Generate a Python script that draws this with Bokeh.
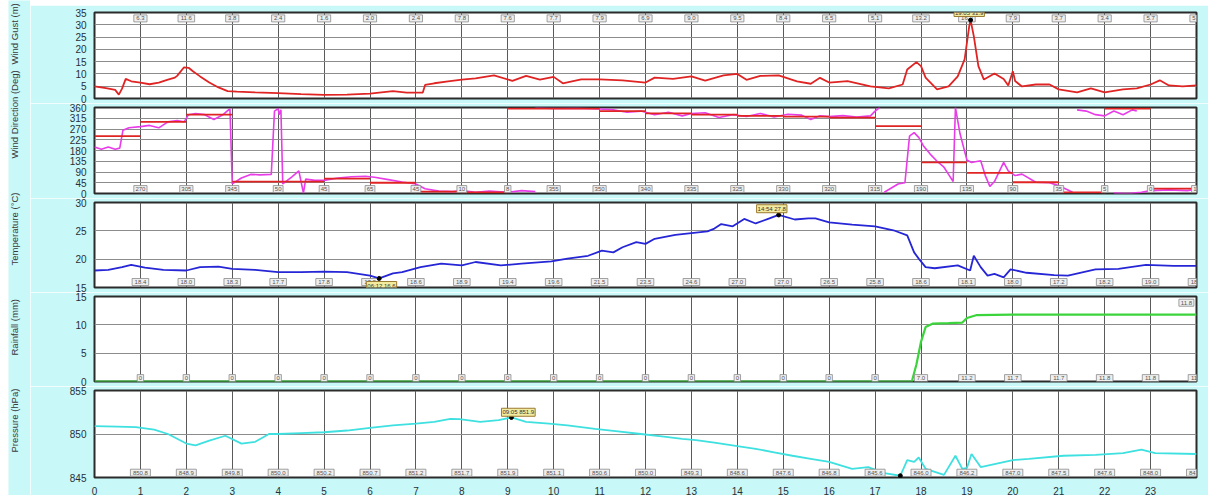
import math
from bokeh.plotting import figure
from bokeh.layouts import column, row
from bokeh.models import Range1d, FixedTicker, Label, Spacer
from bokeh.core.properties import value
from bokeh.embed import file_html
from bokeh.resources import INLINE

NAN = float("nan")

# ---------------- data ----------------
hours = list(range(1, 25))
x_tick_hours = list(range(0, 24))

wind_t = [0, 0.25, 0.45, 0.53, 0.6, 0.68, 0.8, 1.0, 1.2, 1.4, 1.6, 1.75, 1.8, 1.95, 2.05, 2.15, 2.3, 2.5, 2.7, 2.9,
          3.1, 3.5, 4.0, 4.5, 5.0, 5.5, 6.0, 6.5, 6.8, 7.15, 7.2, 7.4, 7.7, 8.0, 8.3, 8.7, 9.1, 9.4, 9.7, 10.0,
          10.2, 10.6, 11.0, 11.5, 12.0, 12.2, 12.6, 13.0, 13.3, 13.7, 14.0, 14.2, 14.5, 14.9, 15.3, 15.6, 15.8,
          16.0, 16.4, 16.9, 17.3, 17.6, 17.7, 17.9, 18.0, 18.1, 18.35, 18.6, 18.8, 18.95, 19.05, 19.08, 19.15,
          19.25, 19.37, 19.6, 19.8, 19.9, 20.0, 20.05, 20.2, 20.5, 20.8, 21.0, 21.4, 21.7, 22.0, 22.4, 22.7,
          23.0, 23.2, 23.4, 23.7, 24.0]
wind_v = [4.9, 4.2, 3.5, 1.6, 4.0, 8.0, 7.0, 6.5, 5.8, 6.5, 7.7, 8.5, 9.2, 12.7, 12.5, 11.0, 9.0, 6.5, 4.5, 3.0,
          2.8, 2.5, 2.2, 1.8, 1.5, 1.6, 2.0, 3.0, 2.4, 2.4, 5.5, 6.2, 7.0, 7.7, 8.2, 9.4, 7.2, 9.2, 7.7, 8.8,
          6.2, 7.8, 7.8, 7.4, 6.5, 8.5, 8.0, 9.0, 7.3, 9.4, 10.0, 7.6, 9.2, 9.4, 7.0, 6.0, 8.4,
          6.5, 7.1, 4.9, 4.1, 5.7, 11.8, 14.8, 13.2, 8.5, 3.7, 4.9, 9.0, 15.9, 29.4, 31.9, 25.4,
          13.2, 7.7, 10.2, 7.9, 5.3, 11.1, 7.1, 4.9, 5.7, 5.7, 3.7, 2.5, 4.1, 2.5, 3.7, 4.1,
          5.7, 7.4, 5.3, 4.9, 5.3]

dir_t = [0, 0.15, 0.3, 0.45, 0.55, 0.62, 0.75, 1.0, 1.2, 1.4, 1.6, 1.8, 1.95, 2.05, 2.2, 2.4, 2.6, 2.8, 2.95,
         3.0, 3.2, 3.4, 3.6, 3.85, 3.92, 4.0, 4.02, 4.06, 4.1, 4.3, 4.45, 4.55, 4.6, 4.8, 5.0, 5.3, 5.6, 5.9,
         6.1, 6.4, 6.7, 7.0, 7.2, 7.5, 7.8, 8.0, 8.3, 8.6, 9.0, 9.3, 9.6, NAN,
         9.6, 10.0, 10.5, 11.0, 11.3, 11.6, 11.9, 12.2, 12.5, 12.8, 13.0, 13.3, 13.6, 13.9, 14.2, 14.5, 14.8,
         15.1, 15.4, 15.6, 15.8, 16.0, 16.3, 16.6, 16.9, 17.0, 17.1, NAN,
         17.2, 17.5, 17.65, 17.75, 17.85, 17.95, 18.05, 18.2, 18.35, 18.5, 18.6, 18.7, 18.75, 18.85, 19.0,
         19.1, 19.3, 19.4, 19.5, 19.6, 19.8, 19.9, 20.05, 20.2, 20.5, 20.8, 21.0, 21.2, 21.3, NAN,
         21.4, 21.6, 21.8, 22.0, 22.2, 22.4, 22.6, 22.7, NAN,
         22.2, 22.5, 22.8, 23.0, 23.4, 23.8, 24.0]
dir_v = [195, 185, 195, 185, 190, 265, 275, 280, 285, 275, 300, 305, 300, 330, 335, 330, 310, 330, 355,
         40, 65, 80, 78, 80, 345, 355, 330, 350, 40, 70, 95, 2, 60, 55, 55, 65, 70, 72,
         68, 58, 48, 40, 20, 10, 8, 12, 5, 10, 5, 12, 8, NAN,
         358, 356, 357, 354, 350, 340, 345, 330, 340, 325, 335, 338, 318, 330, 322, 335, 320,
         332, 328, 310, 325, 322, 326, 320, 325, 345, 360, NAN,
         5, 40, 45, 240, 255, 235, 200, 165, 135, 110, 80, 50, 360, 250, 140,
         130, 137, 75, 30, 50, 130, 95, 75, 81, 47, 45, 33, 15, 5, NAN,
         350, 345, 330, 325, 345, 330, 350, 345, NAN,
         2, 0, 5, 12, 15, 12, 18]

dir_avg = [240, 300, 330, 50, 50, 62, 45, 8, 5, 355, 355, 345, 335, 330, 325, 322, 318, 282, 130, 86, 47, 5, 355, 20]

temp_t = [0, 0.3, 0.6, 0.8, 1.1, 1.5, 2.0, 2.3, 2.7, 3.0, 3.5, 4.0, 4.5, 5.0, 5.5, 6.0, 6.2, 6.5, 6.7, 7.1,
          7.55, 8.0, 8.3, 8.85, 9.3, 9.95, 10.3, 10.75, 11.05, 11.3, 11.5, 11.8, 12.0, 12.2, 12.65, 13.0, 13.35,
          13.5, 13.65, 13.9, 14.15, 14.4, 14.7, 14.9, 15.25, 15.55, 15.7, 16.0, 16.5, 17.0, 17.4, 17.7, 17.85,
          17.95, 18.1, 18.3, 18.8, 19.07, 19.15, 19.3, 19.45, 19.6, 19.8, 19.95, 20.3, 20.9, 21.2, 21.8, 22.3,
          22.9, 23.5, 24.0]
temp_v = [18.0, 18.1, 18.6, 19.0, 18.5, 18.1, 18.0, 18.6, 18.7, 18.3, 18.1, 17.7, 17.7, 17.8, 17.7, 17.1, 16.6,
          17.5, 17.7, 18.6, 19.2, 18.9, 19.5, 18.9, 19.2, 19.6, 20.1, 20.6, 21.5, 21.2, 22.1, 23.0, 22.7, 23.6,
          24.3, 24.6, 24.9, 25.4, 26.2, 25.8, 27.1, 26.3, 27.2, 27.8, 27.0, 27.2, 27.2, 26.5, 26.1, 25.8, 25.1,
          24.2, 21.2, 20.1, 18.6, 18.4, 18.9, 18.0, 20.6, 18.6, 17.1, 17.4, 16.8, 18.2, 17.6, 17.2, 17.1, 18.2,
          18.3, 19.0, 18.8, 18.8]

rain_t = [0, 17.8, 17.9, 18.0, 18.1, 18.25, 18.6, 18.9, 19.0, 19.2, 20.0, 24.0]
rain_v = [0, 0, 3.0, 7.0, 9.6, 10.2, 10.3, 10.4, 11.2, 11.7, 11.8, 11.8]

pres_t = [0, 0.5, 0.9, 1.3, 1.6, 2.0, 2.2, 2.5, 2.85, 3.2, 3.5, 3.8, 4.0, 4.5, 5.0, 5.5, 6.0, 6.5, 7.0, 7.4,
          7.75, 7.95, 8.4, 8.8, 9.08, 9.4, 9.9, 10.3, 10.9, 11.4, 11.9, 12.4, 12.8, 13.1, 13.5, 14.0, 14.4,
          14.8, 15.2, 15.6, 16.0, 16.5, 16.85, 17.2, 17.55, 17.7, 17.85, 17.95, 18.1, 18.5, 18.75, 18.9, 19.0,
          19.1, 19.3, 19.65, 20.0, 20.35, 21.1, 21.8, 22.4, 22.8, 23.1, 24.0]
pres_v = [850.9, 850.85, 850.8, 850.5, 850.0, 848.9, 848.7, 849.25, 849.8, 848.9, 849.1, 850.0, 850.0, 850.1,
          850.2, 850.4, 850.7, 851.0, 851.2, 851.4, 851.75, 851.7, 851.4, 851.6, 851.9, 851.4, 851.2, 851.0,
          850.6, 850.3, 850.0, 849.7, 849.45, 849.3, 849.0, 848.6, 848.3, 847.9, 847.5, 847.15, 846.8, 846.0,
          846.2, 845.5, 845.2, 847.0, 846.8, 847.3, 846.0, 845.3, 847.5, 846.0, 846.1, 847.7, 846.2, 846.6,
          847.0, 847.15, 847.5, 847.6, 847.8, 848.2, 847.8, 847.7]

wind_hour_lbl = ["6.3", "11.6", "3.8", "2.4", "1.6", "2.0", "2.4", "7.8", "7.6", "7.7", "7.9", "6.9",
                 "9.0", "9.5", "8.4", "6.5", "5.1", "13.2", "16.3", "7.9", "3.7", "3.4", "5.7", "5.3"]
dir_hour_lbl = ["270", "305", "345", "50", "45", "65", "45", "10", "8", "355", "350", "340",
                "335", "325", "330", "320", "315", "190", "135", "90", "35", "5", "0", "12"]
temp_hour_lbl = ["18.4", "18.0", "18.3", "17.7", "17.8", "17.2", "18.6", "18.9", "19.4", "19.6", "21.5", "23.5",
                 "24.6", "27.0", "27.0", "26.5", "25.8", "18.6", "18.1", "18.0", "17.2", "18.2", "19.0", "18.8"]
rain_hour_lbl = ["0", "0", "0", "0", "0", "0", "0", "0", "0", "0", "0", "0",
                 "0", "0", "0", "0", "0", "7.0", "11.2", "11.7", "11.7", "11.8", "11.8", "11.8"]
pres_hour_lbl = ["850.8", "848.9", "849.8", "850.0", "850.2", "850.7", "851.2", "851.7", "851.9", "851.1",
                 "850.6", "850.0", "849.3", "848.6", "847.6", "846.8", "845.6", "846.0", "846.2", "847.0",
                 "847.5", "847.6", "848.0", "847.7"]

titles = ["Wind Gust (m)", "Wind Direction (Deg)", "Temperature (\u00b0C)", "Rainfall (mm)", "Pressure (hPa)"]

# ---------------- style ----------------
BG = "#c8f8f8"
FONT = "Liberation Sans"
FRAME_W = 1102


def make_panel(yr, yticks, gridticks, frame_h, top, bottom, show_x=False):
    p = figure(frame_width=FRAME_W, frame_height=frame_h,
               x_range=Range1d(0, 24), y_range=Range1d(*yr),
               output_backend="svg", toolbar_location=None,
               x_axis_location="below" if show_x else None,
               min_border_left=64, min_border_right=12,
               min_border_top=top, min_border_bottom=bottom)
    p.border_fill_color = BG
    p.background_fill_color = "white"
    p.outline_line_color = "#2b2b2b"
    p.outline_line_width = 2
    p.xgrid.ticker = FixedTicker(ticks=list(range(1, 24)))
    p.xgrid.grid_line_color = "#5a5a5a"
    p.xgrid.grid_line_width = 1
    p.ygrid.ticker = FixedTicker(ticks=gridticks)
    p.ygrid.grid_line_color = "#8c8c8c"
    p.ygrid.grid_line_width = 1
    ya = p.yaxis[0]
    ya.ticker = FixedTicker(ticks=yticks)
    ya.axis_line_color = None
    ya.major_tick_line_color = None
    ya.minor_tick_line_color = None
    ya.major_label_text_font_size = "10px"
    ya.major_label_text_font = FONT
    ya.major_label_text_color = "#26303a"
    ya.major_label_standoff = 2
    if show_x:
        xa = p.xaxis[0]
        xa.ticker = FixedTicker(ticks=x_tick_hours)
        xa.axis_line_color = None
        xa.major_tick_line_color = None
        xa.minor_tick_line_color = None
        xa.major_label_text_font_size = "10px"
        xa.major_label_text_font = FONT
        xa.major_label_text_color = "#26303a"
        xa.major_label_standoff = 3
    return p


def hour_boxes(p, ypos, labels):
    widths = [3 + 3.4 * len(t) for t in labels]
    p.rect(x=hours, y=[ypos] * len(hours), width=widths, height=7,
           width_units="screen", height_units="screen",
           fill_color="#efefef", line_color="#8a8a8a", line_width=0.8)
    p.text(x=hours, y=[ypos] * len(hours), text=labels, text_font=value(FONT),
           text_font_size="6px", text_color="#555555", text_align="center", text_baseline="middle")


def hilite(p, x, y, txt):
    p.add_layout(Label(x=x, y=y, text=txt, text_font=FONT, text_font_size="6px", text_color="#333333",
                       text_align="center", text_baseline="middle",
                       background_fill_color="#f3eba0", border_line_color="#9a7a30", padding=1))


# Panel 1: wind speed / gust
p1 = make_panel((0, 35), list(range(0, 40, 5)), list(range(5, 35, 5)), 86, 7, 5)
p1.line(wind_t, wind_v, line_color="#e02424", line_width=1.8)
hour_boxes(p1, 32.6, wind_hour_lbl)
p1.scatter([19.08], [31.9], size=4, color="black")
hilite(p1, 19.05, 35, "19:05 31.9")

# Panel 2: wind direction
p2 = make_panel((0, 360), list(range(0, 405, 45)), list(range(45, 360, 45)), 86, 4, 5)
p2.line(dir_t, dir_v, line_color="#e83ce8", line_width=1.6)
p2.segment(x0=x_tick_hours, x1=hours, y0=dir_avg, y1=dir_avg, line_color="#e02424", line_width=1.8)
hour_boxes(p2, 18.6, dir_hour_lbl)

# Panel 3: temperature
p3 = make_panel((15, 30), [15, 20, 25, 30], [20, 25], 85, 4, 5)
p3.line(temp_t, temp_v, line_color="#2626d6", line_width=1.8)
hour_boxes(p3, 15.97, temp_hour_lbl)
p3.scatter([14.9, 6.2], [27.8, 16.6], size=4, color="black")
hilite(p3, 14.75, 28.9, "14:54 27.8")
hilite(p3, 6.25, 15.35, "06:12 16.6")

# Panel 4: rainfall
p4 = make_panel((0, 15), [0, 5, 10, 15], [5, 10], 85, 4, 5)
p4.line(rain_t, rain_v, line_color="#3cd43c", line_width=2.2)
hour_boxes(p4, 0.6, rain_hour_lbl)
p4.rect(x=[23.78], y=[13.9], width=15, height=7, width_units="screen", height_units="screen",
        fill_color="#efefef", line_color="#8a8a8a", line_width=0.8)
p4.text(x=[23.78], y=[13.9], text=[rain_hour_lbl[-1]], text_font=value(FONT), text_font_size="6px",
        text_color="#555555", text_align="center", text_baseline="middle")

# Panel 5: pressure
p5 = make_panel((845, 855), [845, 850, 855], [850], 87, 4, 18, show_x=True)
p5.line(pres_t, pres_v, line_color="#3ee0e0", line_width=1.8)
hour_boxes(p5, 845.55, pres_hour_lbl)
p5.scatter([9.08, 17.55], [851.9, 845.2], size=4, color="black")
hilite(p5, 9.23, 852.5, "09:05 851.9")
hilite(p5, 17.56, 844.3, "17:33 845.2")

# Left-hand axis titles (rotated, running past the panel edges as in the original)
lab = figure(width=22, height=495, x_range=Range1d(0, 22), y_range=Range1d(0, 495),
             output_backend="svg", toolbar_location=None, x_axis_location=None, y_axis_location=None,
             min_border=0)
lab.border_fill_color = BG
lab.background_fill_color = BG
lab.outline_line_color = None
lab.xgrid.visible = False
lab.ygrid.visible = False
title_base_y = [431, 337, 230, 140, 43]
lab.text(x=[6] * 5, y=title_base_y, text=titles, angle=math.pi / 2, text_align="left",
         text_baseline="middle", text_font=value(FONT), text_font_size="9.5px", text_color="#3a3a3a")

panels = column(Spacer(height=5), p1, p2, p3, p4, p5, spacing=0)
layout = row(Spacer(width=8), lab, panels, spacing=0)

open("out.html", "w").write(file_html(layout, INLINE))
